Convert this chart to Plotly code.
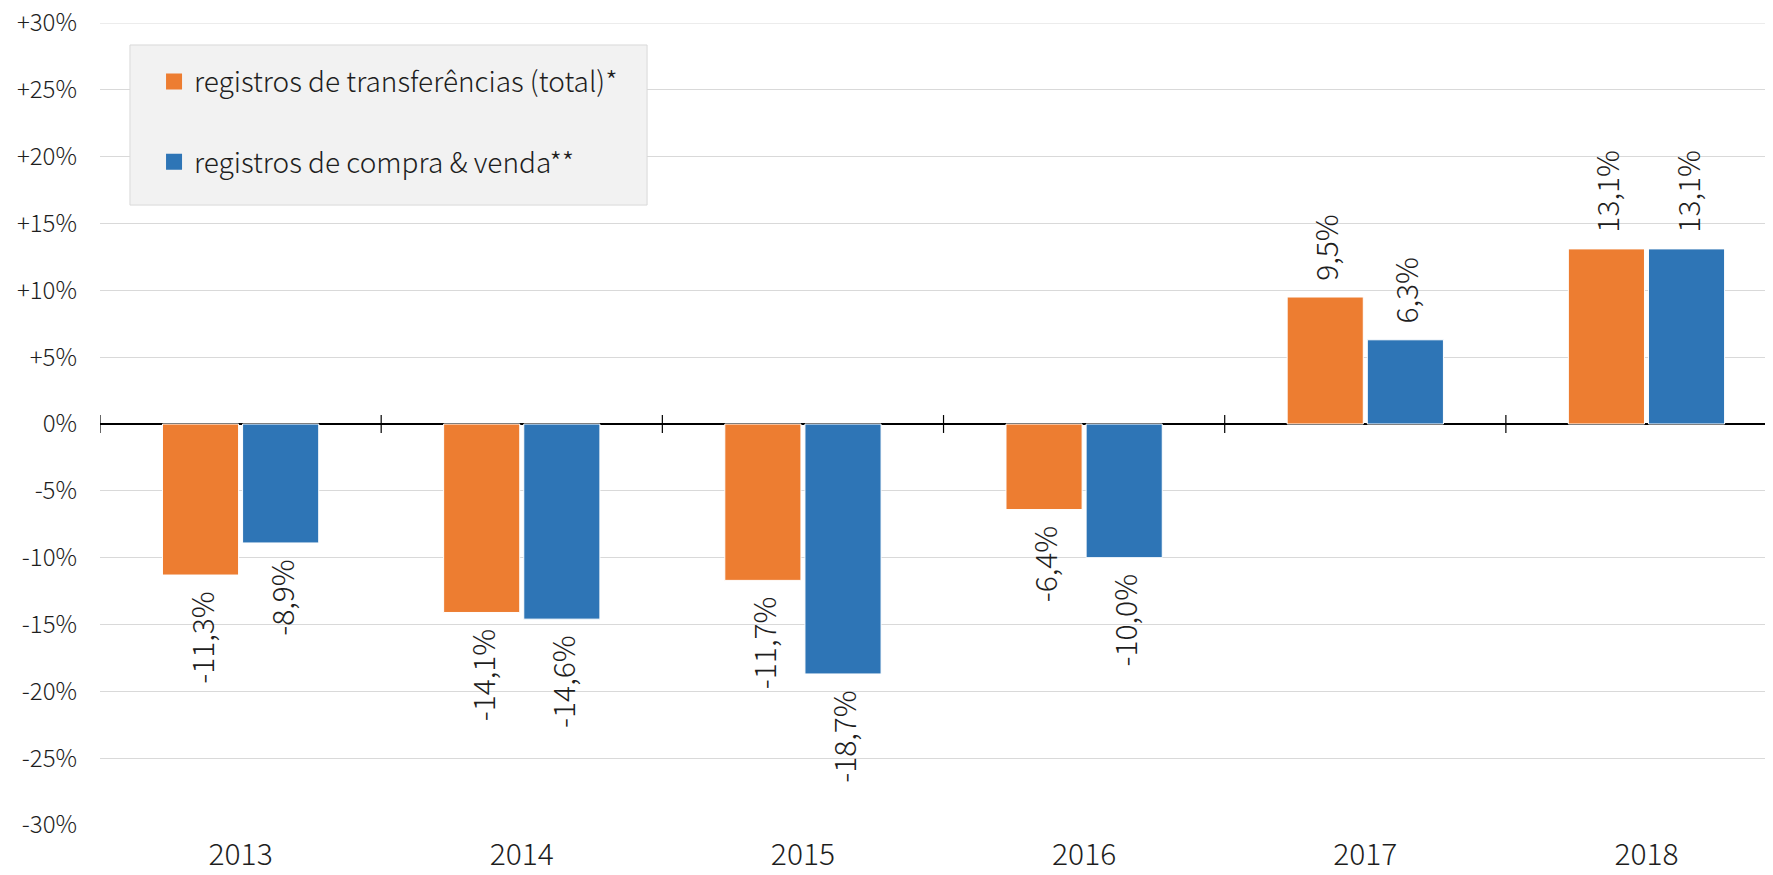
import plotly.graph_objects as go

categories = ["2013", "2014", "2015", "2016", "2017", "2018"]
series_names = ["registros de transferências (total)*", "registros de compra & venda**"]
transfer_values = [-11.3, -14.1, -11.7, -6.4, 9.5, 13.1]
sale_values = [-8.9, -14.6, -18.7, -10.0, 6.3, 13.1]
colors = ["#ED7D31", "#2E75B6"]
y_tick_vals = [30, 25, 20, 15, 10, 5, 0, -5, -10, -15, -20, -25, -30]
y_tick_text = ["+30%", "+25%", "+20%", "+15%", "+10%", "+5%", "0%", "-5%", "-10%", "-15%", "-20%", "-25%", "-30%"]

FONT = "Noto Sans CJK JP, Noto Sans, sans-serif"
TXT = "#1e1e1e"
GRID = "#D9D9D9"
PAD = "\u00a0\u00a0"


def label(v):
    s = f"{v:.1f}".replace(".", ",") + "%"
    return PAD + s if v >= 0 else s + PAD


fig = go.Figure()
for i, (name, vals) in enumerate(zip(series_names, [transfer_values, sale_values])):
    fig.add_trace(go.Bar(
        x=categories, y=vals, name=name, showlegend=False,
        marker=dict(color=colors[i], line=dict(color="white", width=1)),
        text=[label(v) for v in vals],
        textposition="outside", textangle=-90, constraintext="none",
        cliponaxis=False,
        textfont=dict(family=FONT, size=30, color=TXT, weight=300),
        legendgroup=f"g{i}",
    ))
# legend entries (square swatches like the reference)
for i, name in enumerate(series_names):
    fig.add_trace(go.Scatter(
        x=[None], y=[None], mode="markers", name=name, legendgroup=f"g{i}",
        marker=dict(symbol="square", size=16, color=colors[i]), hoverinfo="skip",
    ))

shapes = []
# top gridline (plotly omits gridlines on the plot edge)
shapes.append(dict(type="line", xref="paper", yref="y", x0=0, x1=1,
                   y0=max(y_tick_vals), y1=max(y_tick_vals),
                   line=dict(color=GRID, width=1), layer="below"))
# crossing tick marks at category boundaries on the zero line
for k in range(len(categories) + 1):
    shapes.append(dict(type="line", xref="x", yref="y", x0=k - 0.5, x1=k - 0.5,
                       y0=-0.67, y1=0.67, line=dict(color="black", width=1.2), layer="above"))
# legend background box
shapes.append(dict(type="rect", xref="paper", yref="paper", x0=0.0179, x1=0.327,
                   y0=0.773, y1=0.9726, fillcolor="#F2F2F2",
                   line=dict(color=GRID, width=1), layer="above"))

fig.update_layout(
    width=1765, height=867,
    margin=dict(l=92, r=0, t=15, b=50, autoexpand=False),
    plot_bgcolor="white", paper_bgcolor="white",
    barmode="group", bargap=0.43, bargroupgap=0.05,
    font=dict(family=FONT, color=TXT, weight=300),
    showlegend=True,
    legend=dict(x=0.0323, y=0.958, xanchor="left", yanchor="top",
                bgcolor="rgba(0,0,0,0)", borderwidth=0,
                font=dict(family=FONT, size=28, color=TXT, weight=300),
                traceorder="grouped", tracegroupgap=41),
    shapes=shapes,
)
fig.update_xaxes(type="category", range=[-0.5, 5.45], showgrid=False, showline=False,
                 ticks="", tickfont=dict(family=FONT, size=30, color=TXT, weight=300),
                 ticklabelstandoff=9, zeroline=False, automargin=False,
                 ticklabeloverflow="allow")
fig.update_yaxes(range=[-30, 30], tickvals=y_tick_vals, ticktext=y_tick_text,
                 showgrid=True, gridcolor=GRID, gridwidth=1,
                 zeroline=True, zerolinecolor="black", zerolinewidth=1.5,
                 showline=False, ticks="", ticklabelstandoff=22, automargin=False,
                 ticklabeloverflow="allow",
                 tickfont=dict(family=FONT, size=24, color=TXT, weight=300))

fig.write_html("out.html")
